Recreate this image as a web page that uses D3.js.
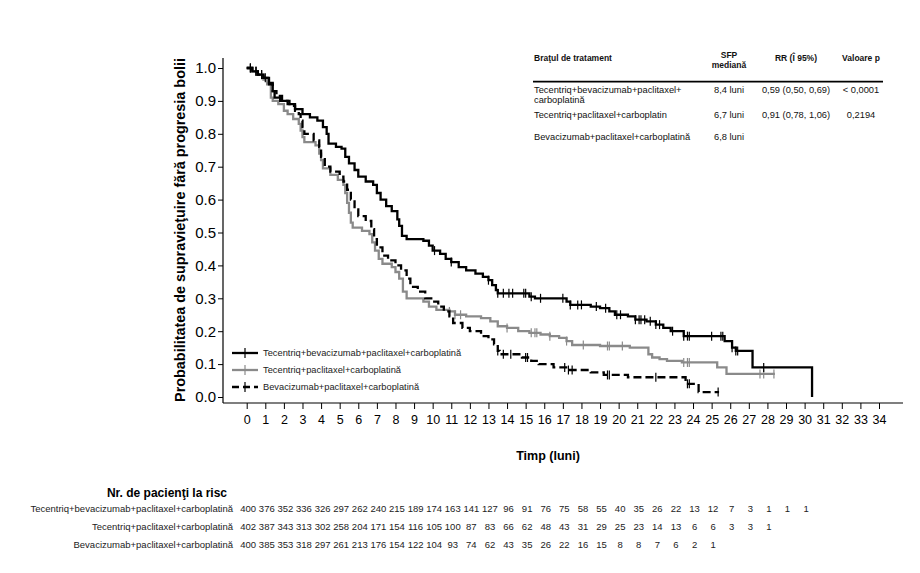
<!DOCTYPE html>
<html><head><meta charset="utf-8">
<script src="https://cdn.jsdelivr.net/npm/d3@7"></script>
<style>body{margin:0;background:#fff}svg{font-family:"Liberation Sans",Arial,sans-serif}</style>
</head><body><svg id="c" width="920" height="573"></svg>
<script>
const armNames = ["Tecentriq+bevacizumab+paclitaxel+carboplatină","Tecentriq+paclitaxel+carboplatină","Bevacizumab+paclitaxel+carboplatină"];
const xTicks = d3.range(0, 35);
const yTicks = [0,0.1,0.2,0.3,0.4,0.5,0.6,0.7,0.8,0.9,1.0];

const armA_t = [0,0.3,0.6,0.9,1.2,1.4,1.5,1.8,2.2,2.6,3.0,3.4,3.8,4.1,4.3,4.4,4.8,5.1,5.3,5.5,5.8,6.0,6.4,6.8,7.0,7.2,7.5,7.8,8.1,8.2,8.35,8.6,9.5,9.8,10.0,10.4,10.7,11.0,11.4,11.8,12.3,12.7,13.0,13.2,13.4,13.5,15.2,15.5,17.2,17.4,18.5,19.0,19.5,19.8,20.5,20.9,21.5,22.0,22.4,22.8,23.5,25.7,26.1,26.3,27.2,30.4];
const armA_s = [1.0,0.99,0.98,0.97,0.955,0.93,0.91,0.90,0.89,0.875,0.86,0.85,0.84,0.82,0.80,0.77,0.76,0.755,0.73,0.71,0.69,0.67,0.655,0.645,0.62,0.60,0.58,0.565,0.54,0.52,0.49,0.48,0.475,0.46,0.445,0.435,0.42,0.41,0.395,0.385,0.375,0.365,0.355,0.34,0.325,0.315,0.305,0.30,0.29,0.28,0.275,0.27,0.26,0.25,0.245,0.235,0.23,0.22,0.21,0.20,0.185,0.17,0.15,0.14,0.09,0];
const armA_c = [0.2,0.5,0.8,1.0,10.1,11.0,13.0,13.5,13.8,14.1,14.3,14.9,15.0,15.3,15.8,17.0,17.4,17.8,18.0,18.8,19.3,19.9,20.1,20.9,21.1,21.2,21.4,21.7,22.0,22.2,22.9,23.5,23.7,23.8,25.0,25.5,25.6,26.1,26.3,26.4,27.8];
const armA_end = 30.4;

const armB_t = [0,0.3,0.6,0.9,1.1,1.3,1.4,1.7,2.0,2.2,2.5,2.8,2.9,3.0,3.1,3.7,3.9,4.0,4.1,4.5,4.9,5.2,5.3,5.4,5.5,5.6,5.7,6.2,6.6,6.75,6.9,7.1,7.3,7.8,8.0,8.2,8.4,8.6,9.5,9.8,10.2,10.9,11.2,11.8,12.6,13.1,13.5,14.0,14.6,15.2,15.8,16.3,16.8,17.2,17.5,19.0,20.6,21.6,21.8,22.2,22.6,23.4,25.3,25.8];
const armB_s = [1.0,0.99,0.98,0.965,0.95,0.91,0.90,0.89,0.87,0.86,0.845,0.83,0.81,0.79,0.775,0.765,0.74,0.72,0.695,0.675,0.66,0.645,0.62,0.59,0.56,0.53,0.515,0.505,0.495,0.47,0.445,0.42,0.405,0.395,0.38,0.36,0.32,0.30,0.29,0.275,0.265,0.26,0.25,0.245,0.24,0.23,0.215,0.21,0.20,0.195,0.19,0.185,0.18,0.17,0.158,0.155,0.15,0.13,0.12,0.115,0.11,0.105,0.09,0.07];
const armB_c = [0.2,0.5,0.8,10.9,11.2,11.5,14.0,15.3,15.5,15.6,16.3,17.2,18.1,19.4,19.5,20.2,23.5,23.7,23.8,27.6,27.8,28.35];
const armB_end = 28.4;

const armC_t = [0,0.3,0.6,0.9,1.2,1.4,1.6,1.9,2.3,2.6,2.8,2.9,3.0,3.1,3.6,3.9,4.0,4.2,4.5,5.0,5.2,5.4,5.6,5.8,6.0,6.4,6.7,6.85,7.0,7.3,7.6,8.0,8.3,8.6,8.8,9.2,9.6,10.0,10.3,10.6,10.9,11.1,11.6,12.0,12.6,13.0,13.3,13.5,13.6,14.8,15.3,15.7,16.5,17.3,18.5,19.2,20.5,23.6,24.3];
const armC_s = [1.0,0.99,0.98,0.97,0.95,0.93,0.915,0.90,0.885,0.87,0.86,0.84,0.82,0.80,0.78,0.76,0.73,0.70,0.685,0.67,0.655,0.63,0.60,0.57,0.55,0.535,0.51,0.48,0.455,0.43,0.415,0.40,0.385,0.36,0.335,0.32,0.30,0.29,0.275,0.26,0.245,0.225,0.21,0.20,0.185,0.175,0.16,0.14,0.13,0.12,0.11,0.10,0.09,0.082,0.075,0.067,0.06,0.04,0.015];
const armC_c = [0.2,0.5,0.8,13.5,13.8,14.2,15.0,15.1,17.1,17.3,17.5,19.4,19.5,22.0,23.7,23.8,25.35];
const armC_end = 25.4;

const riskA = [400,376,352,336,326,297,262,240,215,189,174,163,141,127,96,91,76,75,58,55,40,35,26,22,13,12,7,3,1,1,1];
const riskB = [402,387,343,313,302,258,204,171,154,116,105,100,87,83,66,62,48,43,31,29,25,23,14,13,6,6,3,3,1];
const riskC = [400,385,353,318,297,261,213,176,154,122,104,93,74,62,43,35,26,22,16,15,8,8,7,6,2,1];

const tblHeader = ["Braţul de tratament","SFP|mediană","RR (Î 95%)","Valoare p"];
const tblRows = [
  ["Tecentriq+bevacizumab+paclitaxel+|carboplatină","8,4 luni","0,59 (0,50, 0,69)","< 0,0001"],
  ["Tecentriq+paclitaxel+carboplatin","6,7 luni","0,91 (0,78, 1,06)","0,2194"],
  ["Bevacizumab+paclitaxel+carboplatină","6,8 luni","",""]
];

const svg = d3.select("#c");
const x = d3.scaleLinear().domain([0,34]).range([246.7,879]);
const y = d3.scaleLinear().domain([0,1]).range([397,68]);

// frame
svg.append("line").attr("x1",223).attr("x2",223).attr("y1",58).attr("y2",403).attr("stroke","#000").attr("stroke-width",1.2);
svg.append("line").attr("x1",223).attr("x2",903).attr("y1",403).attr("y2",403).attr("stroke","#000").attr("stroke-width",1.2);

// y axis
const yg = svg.append("g").attr("transform","translate(223,0)")
  .call(d3.axisLeft(y).tickValues(yTicks).tickFormat(d3.format(".1f")).tickSize(5).tickPadding(2));
yg.select(".domain").remove();
yg.selectAll("text").attr("font-size",15).attr("fill","#000").attr("font-family","Liberation Sans, Arial");
yg.selectAll("line").attr("stroke","#000");

// x axis
const xg = svg.append("g").attr("transform","translate(0,403)")
  .call(d3.axisBottom(x).tickValues(xTicks).tickFormat(d3.format("d")).tickSize(6).tickPadding(6));
xg.select(".domain").remove();
xg.selectAll("text").attr("font-size",12.5).attr("fill","#000").attr("font-family","Liberation Sans, Arial");
xg.selectAll("line").attr("stroke","#000");

svg.append("text").attr("x",548).attr("y",460).attr("text-anchor","middle").attr("font-weight","bold").attr("font-size",12.5).text("Timp (luni)");
svg.append("text").attr("transform","translate(185,230) rotate(-90)").attr("text-anchor","middle").attr("font-weight","bold").attr("font-size",14.4).text("Probabilitatea de supravieţuire fără progresia bolii");

const arms = [
  {t:armA_t,s:armA_s,c:armA_c,end:armA_end,color:"#000",dash:null},
  {t:armB_t,s:armB_s,c:armB_c,end:armB_end,color:"#8a8a8a",dash:null},
  {t:armC_t,s:armC_s,c:armC_c,end:armC_end,color:"#000",dash:"8,4"}
];
const line = d3.line().x(d=>x(d[0])).y(d=>y(d[1])).curve(d3.curveStepAfter);
function survAt(a,tt){let v=1;for(let i=0;i<a.t.length;i++){if(a.t[i]<=tt)v=a.s[i];}return v;}
[1,2,0].forEach(i=>{
  const a = arms[i];
  const pts = a.t.map((t,j)=>[t,a.s[j]]);
  if (a.t[a.t.length-1] < a.end) pts.push([a.end, a.s[a.s.length-1]]);
  svg.append("path").attr("d",line(pts)).attr("fill","none").attr("stroke",a.color).attr("stroke-width",2.3).attr("stroke-dasharray",a.dash);
  svg.append("g").selectAll("line").data(a.c).join("line")
    .attr("x1",d=>x(d)).attr("x2",d=>x(d)).attr("y1",d=>y(survAt(a,d))-4.5).attr("y2",d=>y(survAt(a,d))+4.5)
    .attr("stroke",a.color).attr("stroke-width",1.2);
});

// legend
const legY = [353,370,387];
arms.forEach((a,i)=>{
  svg.append("line").attr("x1",232).attr("x2",258).attr("y1",legY[i]).attr("y2",legY[i]).attr("stroke",a.color).attr("stroke-width",2.3).attr("stroke-dasharray",a.dash?"7,4":null);
  svg.append("line").attr("x1",245).attr("x2",245).attr("y1",legY[i]-5).attr("y2",legY[i]+5).attr("stroke",a.color).attr("stroke-width",1.2);
  svg.append("text").attr("x",263).attr("y",legY[i]+3).attr("font-size",9.3).attr("fill","#222").text(armNames[i]);
});

// table top-right
const colX = [534,729,796,861];
const tb = svg.append("g").attr("font-size",9.3).attr("fill","#111");
tblHeader.forEach((h,i)=>{
  const parts = h.split("|");
  parts.forEach((p,k)=>{
    tb.append("text").attr("x",colX[i]).attr("y",(parts.length>1?58:61)+k*10).attr("text-anchor",i===0?"start":"middle").attr("font-weight","bold").attr("font-size",8.5).text(p);
  });
});
svg.append("line").attr("x1",533).attr("x2",883).attr("y1",81.7).attr("y2",81.7).attr("stroke","#000").attr("stroke-width",1.8);
const rowY=[93,118,140];
tblRows.forEach((r,ri)=>{
  r.forEach((c,ci)=>{
    c.split("|").forEach((p,k)=>{
      tb.append("text").attr("x",ci===0?534:colX[ci]).attr("y",rowY[ri]+k*10).attr("text-anchor",ci===0?"start":"middle").text(p);
    });
  });
});

// risk table
svg.append("text").attr("x",227).attr("y",497).attr("text-anchor","end").attr("font-weight","bold").attr("font-size",12).text("Nr. de pacienţi la risc");
const risks=[riskA,riskB,riskC];
const rY=[512,530,548];
risks.forEach((r,i)=>{
  svg.append("text").attr("x",233).attr("y",rY[i]).attr("text-anchor","end").attr("font-size",9.5).attr("fill","#222").text(armNames[i]);
  svg.append("g").selectAll("text").data(r).join("text")
    .attr("x",(d,j)=>x(j)+1.5).attr("y",rY[i]).attr("text-anchor","middle").attr("font-size",9.5).attr("fill","#222").text(d=>d);
});
</script></body></html>
